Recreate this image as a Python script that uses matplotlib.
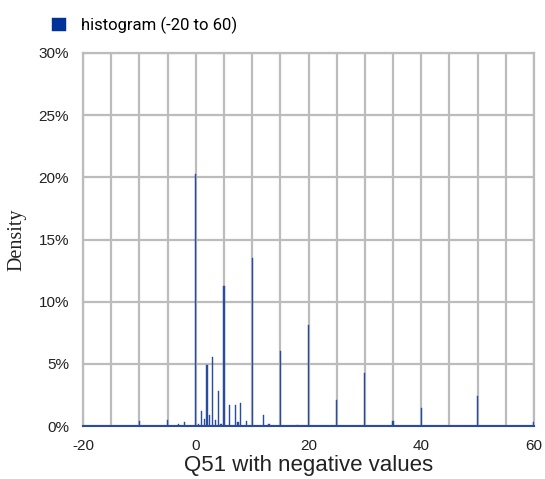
import matplotlib
matplotlib.use('Agg')
import matplotlib.pyplot as plt
from matplotlib.ticker import MultipleLocator, FuncFormatter

plt.rcParams['axes.unicode_minus'] = False

# histogram of Q51, density in %
bin_pos = [-10, -5, -3, -2, 0, 0.5, 1, 1.5, 2, 2.5, 3, 3.5, 4, 4.5, 5, 6, 7, 7.5, 8, 9, 10,
           12, 13, 15, 18, 20, 25, 30, 35, 40, 50, 60]
density = [0.4, 0.5, 0.15, 0.3, 20.25, 0.15, 1.2, 0.6, 4.9, 0.9, 5.55, 0.5, 2.8, 0.15, 11.3,
           1.65, 1.65, 0.3, 1.85, 0.4, 13.55, 0.9, 0.15, 6.0, 0.1, 8.1, 2.1, 4.3, 0.4, 1.45,
           2.4, 0.35]
x_ticks = [-20, 0, 20, 40, 60]
series_name = 'histogram (-20 to 60)'
bar_col = '#2b4b9b'
grid_col = '#bcbcbc'

fig = plt.figure(figsize=(5.45, 4.79), dpi=100)
ax = fig.add_axes([83/545, 53/479, 451/545, 373/479])

ax.bar(bin_pos, density, width=0.22, color=bar_col, edgecolor=bar_col, linewidth=0.3,
       label=series_name, zorder=3)

ax.set_xlim(-20, 60)
ax.set_ylim(0, 30)
ax.set_xticks(x_ticks)
ax.xaxis.set_minor_locator(MultipleLocator(5))
ax.yaxis.set_major_locator(MultipleLocator(5))
ax.yaxis.set_major_formatter(FuncFormatter(lambda v, p: '%d%%' % v))
ax.grid(True, which='both', axis='x', color=grid_col, lw=1.6, zorder=0)
ax.grid(True, which='major', axis='y', color=grid_col, lw=1.6, zorder=0)
ax.tick_params(which='both', length=0)
ax.tick_params(axis='y', pad=10, labelsize=11, labelcolor='#222222')
ax.tick_params(axis='x', pad=9, labelsize=11, labelcolor='#222222')
for lab in ax.get_xticklabels() + ax.get_yticklabels():
    lab.set_family('Liberation Sans')

for s in ['left', 'right', 'top']:
    ax.spines[s].set_color(grid_col)
    ax.spines[s].set_linewidth(1.6)
ax.spines['bottom'].set_color(bar_col)
ax.spines['bottom'].set_linewidth(1.5)
ax.spines['bottom'].set_zorder(4)

ax.set_xlabel('Q51 with negative values', fontsize=16, family='Liberation Sans',
              color='#222222', labelpad=2)
ax.set_ylabel('Density', fontsize=14.5, family='Liberation Serif', color='#222222')
ax.yaxis.set_label_coords(-0.125, 0.5)

leg = ax.legend(loc='upper left', bbox_to_anchor=(52/545, 1 - 17/479),
                bbox_transform=fig.transFigure, frameon=False, handlelength=0.85,
                handleheight=0.85, handletextpad=0.9, borderpad=0, borderaxespad=0,
                prop={'family': 'Roboto', 'size': 12})
for h in leg.legend_handles:
    h.set_color('#003399')

fig.savefig('out.png', dpi=100)
